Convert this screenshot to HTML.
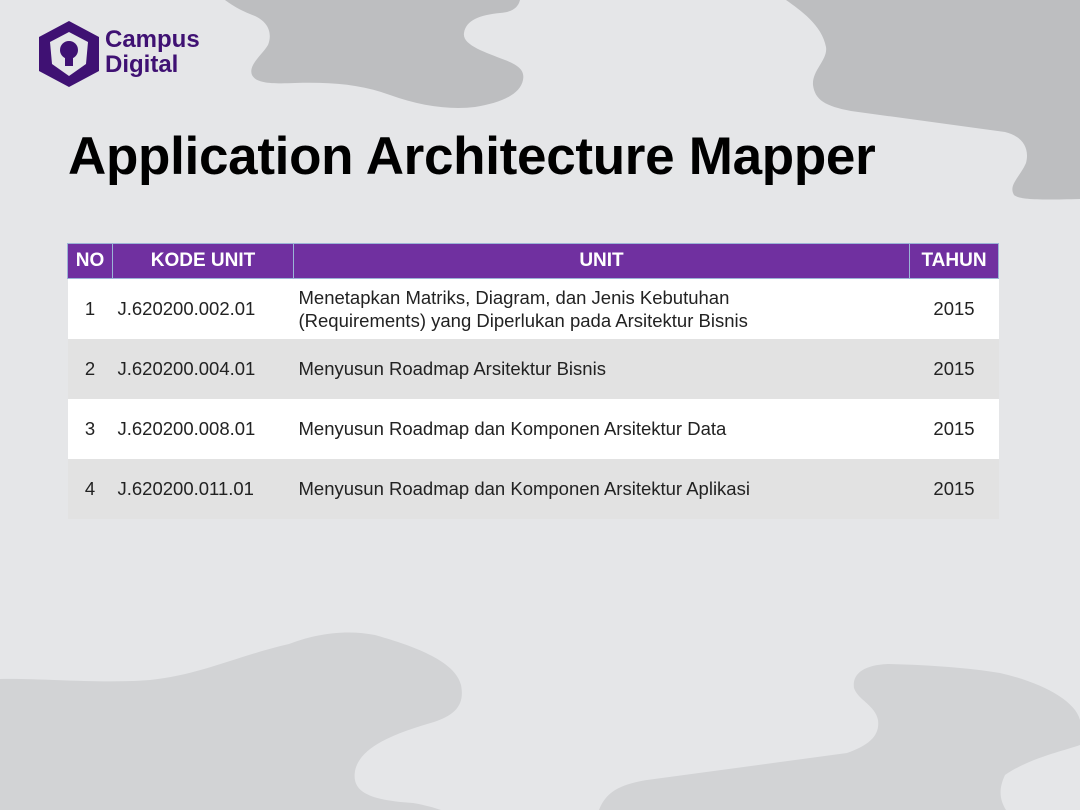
<!DOCTYPE html>
<html><head><meta charset="utf-8"><style>
body{margin:0;width:1080px;height:810px;overflow:hidden;background:#e5e6e8;font-family:"Liberation Sans",sans-serif;position:relative}
svg.bg{position:absolute;left:0;top:0}
.title{position:absolute;left:68px;top:126px;font-size:53px;font-weight:bold;color:#000;letter-spacing:-0.3px;white-space:nowrap}
.logo{position:absolute;left:36px;top:20px}
.lt{position:absolute;left:105px;top:27px;color:#3f1173;font-weight:bold;font-size:24px;line-height:25px}
table{position:absolute;left:67px;top:243px;border-collapse:collapse;table-layout:fixed;width:931px;font-size:18.5px;color:#222}
th{background:#7030a0;color:#fff;font-size:19px;height:35px;padding:0;border:1px solid #9bb5d6;text-align:center;box-sizing:border-box}
td{padding:0 5px;height:60px;border:none;white-space:nowrap}
tr.w td{background:#fff}
tr.g td{background:#e2e2e2}
td.c{text-align:center}
</style></head><body>
<svg class="bg" width="1080" height="810">
<path fill="#bdbec0" d="M225,0 C232,5 239,10 255,16 C270,23 272,35 268,45 C262,55 248,65 252,75 C256,83 270,84 295,83 C330,82 360,84 390,95 C420,106 450,110 475,107 C500,103 520,95 523,80 C525,70 518,65 505,60 C485,52 462,45 464,33 C466,20 480,15 500,13 C512,12 518,8 520,0 Z"/>
<path fill="#bdbec0" d="M786,0 C800,10 822,25 826,47 C828,60 812,70 813,85 C815,100 825,106 851,111 L1005,132 C1022,136 1030,148 1026,163 C1020,177 1008,185 1014,195 C1020,200 1040,200 1080,199 L1080,0 Z"/>
<path fill="#d2d3d5" d="M0,810 L0,679 C40,678 100,684 150,680 C200,675 240,655 289,644 C320,632 350,630 375,635 C410,645 455,660 461,685 C465,705 455,715 434,722 C400,732 360,745 355,771 C352,790 365,800 413,803 C425,805 435,808 441,810 Z"/>
<path fill="#d2d3d5" d="M599,810 C605,795 615,785 647,780 L847,753 C870,745 880,735 878,720 C875,705 858,700 854,688 C852,675 862,665 888,664 C930,665 970,668 1000,673 C1040,682 1075,700 1080,720 L1080,745 C1060,752 1030,758 1005,775 C998,790 1000,800 1006,810 Z"/>
</svg>
<svg class="logo" width="66" height="68" viewBox="0 0 66 68">
<polygon points="33,1 63,17 63,51 33,67 3,51 3,17" fill="#3f1173"/>
<path d="M14,22 L33,12 L52,22 L50,44 L33,56 L16,44 Z" fill="#e5e6e8"/>
<circle cx="33" cy="30" r="9" fill="#3f1173"/>
<rect x="29" y="38" width="8" height="8" fill="#3f1173"/>
</svg>
<div class="lt">Campus<br>Digital</div>
<div class="title">Application Architecture Mapper</div>
<table>
<colgroup><col style="width:45px"><col style="width:181px"><col style="width:616px"><col style="width:89px"></colgroup>
<tr><th>NO</th><th>KODE UNIT</th><th>UNIT</th><th>TAHUN</th></tr>
<tr class="w"><td class="c">1</td><td>J.620200.002.01</td><td style="line-height:23px">Menetapkan Matriks, Diagram, dan Jenis Kebutuhan<br>(Requirements) yang Diperlukan pada Arsitektur Bisnis</td><td class="c">2015</td></tr>
<tr class="g"><td class="c">2</td><td>J.620200.004.01</td><td>Menyusun Roadmap Arsitektur Bisnis</td><td class="c">2015</td></tr>
<tr class="w"><td class="c">3</td><td>J.620200.008.01</td><td>Menyusun Roadmap dan Komponen Arsitektur Data</td><td class="c">2015</td></tr>
<tr class="g"><td class="c">4</td><td>J.620200.011.01</td><td>Menyusun Roadmap dan Komponen Arsitektur Aplikasi</td><td class="c">2015</td></tr>
</table>
</body></html>
